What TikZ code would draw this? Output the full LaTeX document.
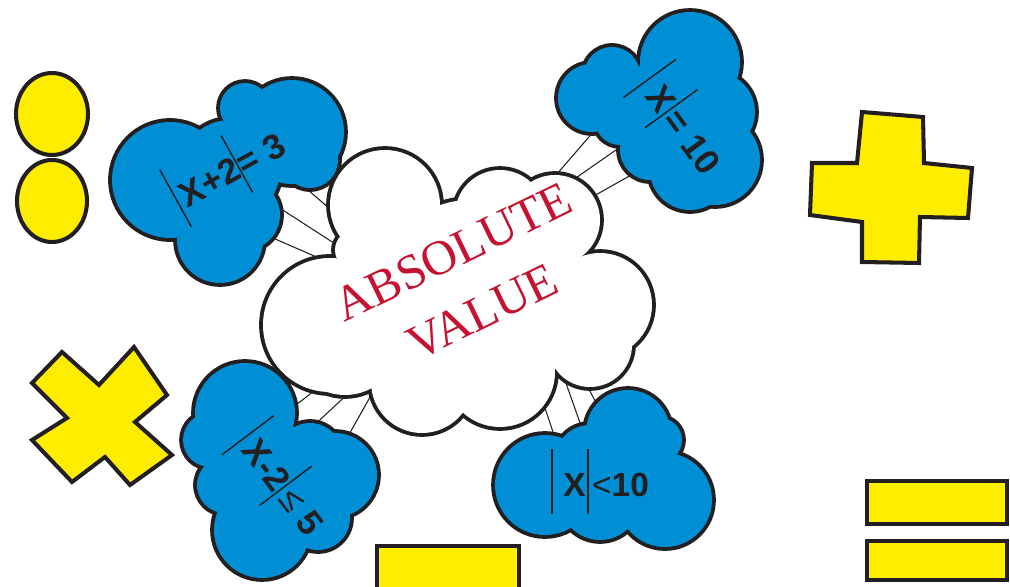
\documentclass[tikz,border=0pt]{standalone}
\usepackage{fontspec}
\setmainfont{Liberation Sans}
\newfontfamily\serifTitolo{Liberation Serif}
\usepackage{xcolor}
\usepackage{tikz}
\usetikzlibrary{positioning}

\definecolor{bluNuvola}{RGB}{0,142,212}
\definecolor{gialloForma}{RGB}{255,237,0}
\definecolor{neroBordo}{RGB}{35,31,32}
\definecolor{rossoTitolo}{RGB}{196,18,48}

% barra del valore assoluto
\newcommand{\barra}{\rule[-10pt]{0.8pt}{37pt}}

\begin{document}
\begin{tikzpicture}[x=0.02cm, y=-0.02cm,
    bordo nuvola/.style={draw=neroBordo, line width=4.4pt},
    forma/.style={fill=gialloForma, draw=neroBordo, line width=2.3pt, line join=miter},
    filo/.style={draw=neroBordo, line width=0.6pt},
    testo nuvola/.style={text=neroBordo, font=\fontsize{20}{24}\selectfont\bfseries, inner sep=0pt}
]

    \useasboundingbox (0,0) rectangle (1010,587);

    % ==========================================
    % 1. FILI TRA LE NUVOLE
    % ==========================================
    % estremi dentro le nuvole, poi coperti dal riempimento
    \coordinate (a1) at (300,183); \coordinate (c1) at (338,216);
    \coordinate (a2) at (275,205); \coordinate (c2) at (340,247);
    \coordinate (a3) at (266,235); \coordinate (c3) at (328,262);
    \draw[filo] (a1) -- (c1) (a2) -- (c2) (a3) -- (c3);

    \coordinate (b1) at (595,130); \coordinate (d1) at (550,182);
    \coordinate (b2) at (626,143); \coordinate (d2) at (570,182);
    \coordinate (b3) at (640,170); \coordinate (d3) at (585,201);
    \draw[filo] (b1) -- (d1) (b2) -- (d2) (b3) -- (d3);

    \coordinate (e1) at (318,388); \coordinate (f1) at (292,408);
    \coordinate (e2) at (352,390); \coordinate (f2) at (309,430);
    \coordinate (e3) at (374,390); \coordinate (f3) at (342,447);
    \draw[filo] (e1) -- (f1) (e2) -- (f2) (e3) -- (f3);

    \coordinate (g1) at (539,390); \coordinate (h1) at (556,441);
    \coordinate (g2) at (562,372); \coordinate (h2) at (584,434);
    \coordinate (g3) at (585,382); \coordinate (h3) at (600,410);
    \draw[filo] (g1) -- (h1) (g2) -- (h2) (g3) -- (h3);

    % ==========================================
    % 2. NUVOLE (unione di cerchi)
    % ==========================================
    % prima il bordo di tutti i cerchi, poi il riempimento
    \def\nuvolaCentro{385/205/55, 500/215/45, 555/220/45, 600/305/52, 590/345/42,
        500/372/55, 422/382/51, 330/325/67, 345/340/55, 470/290/90, 355/250/20,
        545/300/50, 380/285/50}
    \def\nuvolaA{292/132/52, 245/108/25, 170/180/58, 220/240/43, 310/160/28,
        245/215/35, 230/170/50}
    \def\nuvolaB{690/62/50, 612/75/28, 592/98/34, 715/112/40, 715/160/45,
        690/170/40, 650/150/30, 650/110/45, 620/120/25}
    \def\nuvolaC{245/413/50, 210/440/27, 262/530/48, 335/475/42, 318/518/32,
        280/470/45, 310/455/32, 225/485/28}
    \def\nuvolaD{545/485/50, 628/432/42, 660/440/22, 665/500/47, 600/500/40,
        590/460/35}

    \foreach \cx/\cy/\r in \nuvolaCentro \draw[bordo nuvola] (\cx,\cy) circle (\r);
    \foreach \cx/\cy/\r in \nuvolaCentro \fill[white] (\cx,\cy) circle (\r);

    \foreach \cx/\cy/\r in \nuvolaA \draw[bordo nuvola] (\cx,\cy) circle (\r);
    \foreach \cx/\cy/\r in \nuvolaA \fill[bluNuvola] (\cx,\cy) circle (\r);

    \foreach \cx/\cy/\r in \nuvolaB \draw[bordo nuvola] (\cx,\cy) circle (\r);
    \foreach \cx/\cy/\r in \nuvolaB \fill[bluNuvola] (\cx,\cy) circle (\r);

    \foreach \cx/\cy/\r in \nuvolaC \draw[bordo nuvola] (\cx,\cy) circle (\r);
    \foreach \cx/\cy/\r in \nuvolaC \fill[bluNuvola] (\cx,\cy) circle (\r);

    \foreach \cx/\cy/\r in \nuvolaD \draw[bordo nuvola] (\cx,\cy) circle (\r);
    \foreach \cx/\cy/\r in \nuvolaD \fill[bluNuvola] (\cx,\cy) circle (\r);

    % ==========================================
    % 3. TESTI
    % ==========================================
    \node[rossoTitolo, rotate=26, align=center,
          font=\serifTitolo\fontsize{28}{38}\selectfont] (titolo) at (468,282)
          {ABSOLUTE\\VALUE};

    \node[testo nuvola, rotate=29] (eqA) at (228,169)
          {\barra\hspace{3pt}X+2\barra= 3};
    \node[testo nuvola, rotate=-54] (eqB) at (682,123)
          {\barra\hspace{6pt}X\hspace{1pt}\barra\hspace{2pt}= 10};
    \node[testo nuvola, rotate=-53] (eqC) at (283,482)
          {\barra\hspace{4pt}X-2\barra\hspace{3pt}{\mdseries ≤} 5};
    \node[testo nuvola, font=\fontsize{19}{23}\selectfont\bfseries, anchor=base west] (eqD) at (551,496)
          {\barra\hspace{6pt}X\hspace{1pt}\barra\hspace{2pt}{\mdseries <}10};

    % ==========================================
    % 4. SIMBOLI GIALLI
    % ==========================================
    % due punti
    \draw[forma] (52,114) ellipse (36 and 41);
    \draw[forma] (52,201) ellipse (35 and 41);

    % piu'
    \draw[forma] (862,112) -- (923,117) -- (924,163) -- (972,168) -- (968,218)
        -- (920,217) -- (919,263) -- (862,262) -- (862,222) -- (810,215)
        -- (812,163) -- (857,163) -- cycle;

    % per
    \draw[forma] (62,352) -- (99,385) -- (134,347) -- (167,395) -- (135,422)
        -- (172,455) -- (130,485) -- (105,457) -- (72,482) -- (32,440)
        -- (67,418) -- (32,383) -- cycle;

    % meno
    \draw[forma] (377,546) rectangle (519,595);

    % uguale
    \draw[forma] (867,481) rectangle (1007,524);
    \draw[forma] (867,541) rectangle (1007,580);

\end{tikzpicture}
\end{document}
